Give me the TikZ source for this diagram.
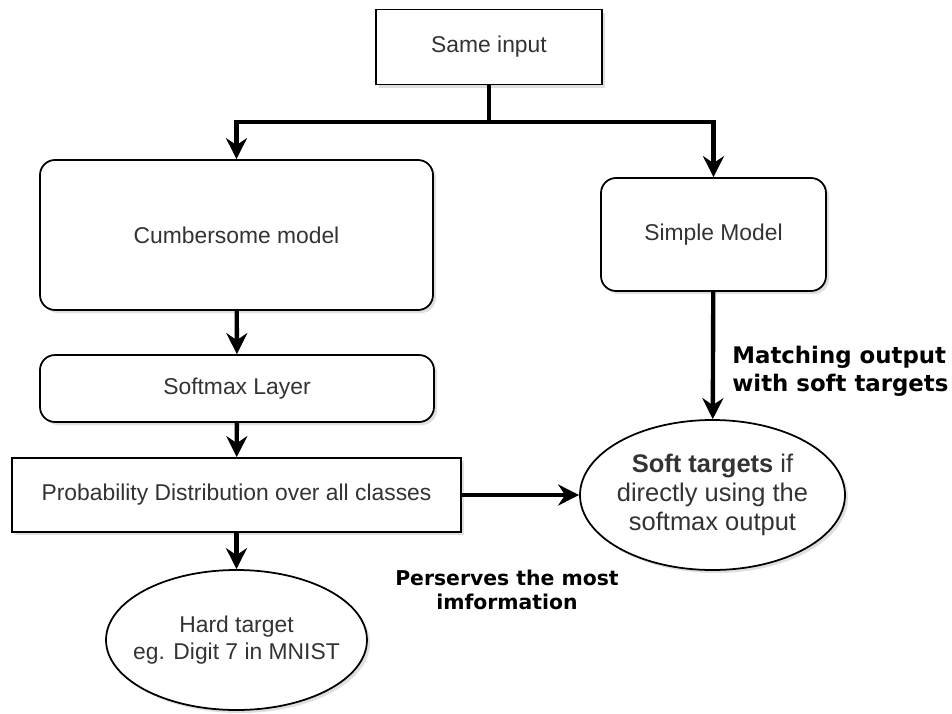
\documentclass[tikz,border=0pt]{standalone}
\usepackage{fontspec}
\setmainfont{Liberation Sans}
\newfontfamily\notefont{DejaVu Sans}
\usepackage{xcolor}
\usetikzlibrary{arrows.meta,shapes.geometric,shadows}

\definecolor{boxtext}{HTML}{333333}

\begin{document}
\begin{tikzpicture}[
	block/.style={draw, line width=1pt, fill=white, text=boxtext, inner sep=0pt, align=center,
		font=\fontsize{13}{15.6}\selectfont,
		drop shadow={opacity=0.25, shadow xshift=0.06cm, shadow yshift=-0.06cm}},
	rblock/.style={block, rounded corners=0.3cm},
	oval/.style={block, ellipse},
	flow/.style={line width=2.5pt, -{Stealth[length=0.42cm, width=0.42cm, inset=0.14cm]}},
	note/.style={align=left, inner sep=0pt, font=\notefont\bfseries\fontsize{11.6}{14}\selectfont}
]
	\useasboundingbox (0, 0) rectangle (19.04, -14.28);

	% Boxes
	\node[block, minimum width=4.52cm, minimum height=1.5cm] (in) at (9.78, -0.94) {Same input};
	\coordinate (split) at (9.78, -2.44);

	\node[rblock, minimum width=7.86cm, minimum height=3.0cm] (cm) at (4.73, -4.7) {Cumbersome model};
	\node[rblock, minimum width=4.5cm, minimum height=2.26cm] (sm) at (14.27, -4.69) {Simple Model};
	\node[rblock, minimum width=7.88cm, minimum height=1.34cm] (sl) at (4.74, -7.77) {Softmax Layer};
	\node[block, minimum width=8.98cm, minimum height=1.48cm] (pd) at (4.73, -9.9) {Probability Distribution over all classes};

	\node[oval, minimum width=5.3cm, minimum height=3.0cm, inner xsep=-0.1cm,
		font=\fontsize{14.5}{16.5}\selectfont] (st) at (14.25, -9.9)
		{\textbf{Soft targets} if\\directly using the\\softmax output};
	\node[oval, minimum width=5.06cm, minimum height=2.8cm, inner xsep=-0.22cm] (ht) at (4.73, -12.8)
		{Hard target\\eg. Digit 7 in MNIST};

	% Labels
	\node[note, anchor=west, font=\notefont\bfseries\fontsize{13}{15.9}\selectfont] (mo) at (14.64, -7.42) {Matching output\\with soft targets};
	\node[note, align=center] (pm) at (10.14, -11.8) {Perserves the most\\imformation};

	% Draw the connectors
	\draw[line width=2.5pt] (in.south) -- (split);
	\draw[flow] (split) -| (cm.north);
	\draw[flow] (split) -| (sm.north);
	\draw[flow] (cm) -- (sl);
	\draw[flow] (sl) -- (pd);
	\draw[flow] (pd) -- (ht);
	\draw[flow] (pd.east) -- (st.west);
	\draw[flow] (sm) -- (st);
\end{tikzpicture}
\end{document}
